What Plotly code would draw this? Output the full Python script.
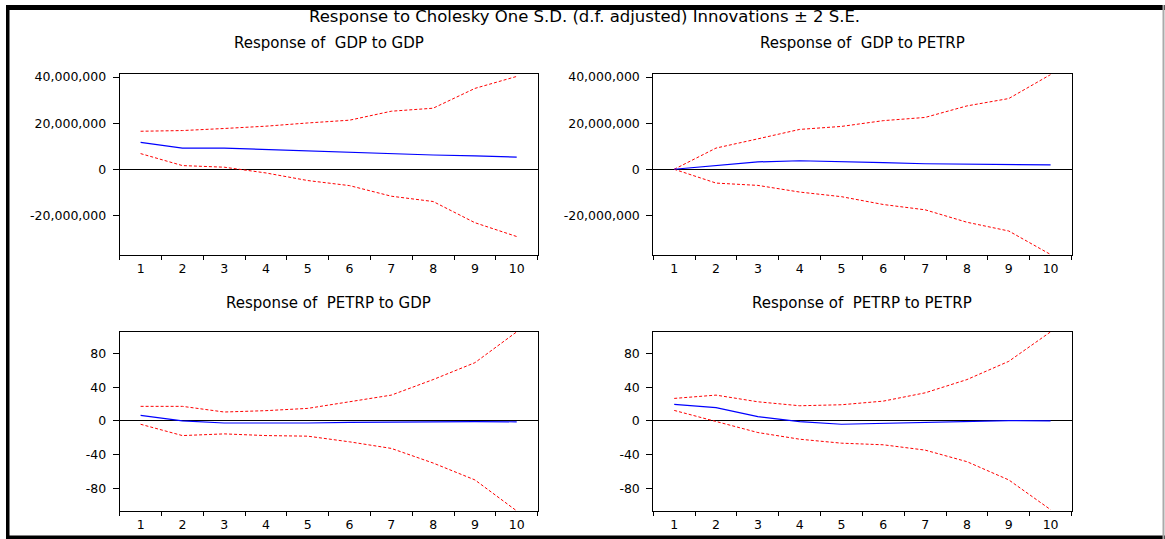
import plotly.graph_objects as go

# ---------------- data ----------------
periods = [1, 2, 3, 4, 5, 6, 7, 8, 9, 10]

# Response of GDP to GDP
gdp_gdp = [11.7e6, 9.2e6, 9.2e6, 8.6e6, 7.9e6, 7.2e6, 6.6e6, 6.2e6, 5.8e6, 5.3e6]
gdp_gdp_up = [16.5e6, 16.8e6, 17.7e6, 18.7e6, 20.1e6, 21.3e6, 25.2e6, 26.5e6, 35.1e6, 40.3e6]
gdp_gdp_lo = [6.8e6, 1.6e6, 0.9e6, -1.6e6, -4.9e6, -7.1e6, -11.7e6, -14.0e6, -23.2e6, -29.2e6]

# Response of GDP to PETRP
gdp_pet = [0.0, 1.6e6, 3.2e6, 3.7e6, 3.4e6, 2.9e6, 2.4e6, 2.2e6, 2.0e6, 1.9e6]
gdp_pet_up = [0.0, 9.2e6, 13.2e6, 17.3e6, 18.6e6, 21.1e6, 22.5e6, 27.5e6, 30.7e6, 41.1e6]
gdp_pet_lo = [0.0, -6.0e6, -7.0e6, -9.9e6, -11.9e6, -15.3e6, -17.6e6, -23.0e6, -26.8e6, -37.0e6]

# Response of PETRP to GDP
pet_gdp = [6.7, 0.0, -2.4, -2.7, -2.4, -1.6, -1.2, -0.8, -0.8, -1.0]
pet_gdp_up = [17.3, 17.3, 10.6, 12.2, 14.9, 23.1, 30.6, 49.0, 69.0, 105.5]
pet_gdp_lo = [-3.9, -17.3, -15.3, -17.3, -18.0, -24.7, -32.5, -49.8, -69.8, -106.5]

# Response of PETRP to PETRP
pet_pet = [19.6, 15.7, 5.1, -0.8, -3.9, -2.7, -1.2, 0.0, 0.4, 0.0]
pet_pet_up = [26.7, 30.6, 22.7, 18.0, 19.2, 23.5, 33.3, 49.0, 70.6, 105.5]
pet_pet_lo = [12.5, -0.4, -13.7, -21.6, -26.3, -28.2, -34.5, -48.2, -69.8, -105.0]

x_ticks = [1, 2, 3, 4, 5, 6, 7, 8, 9, 10]
x_labels = ["1", "2", "3", "4", "5", "6", "7", "8", "9", "10"]
gdp_ticks = [-20e6, 0, 20e6, 40e6]
gdp_labels = ["-20,000,000", "0", "20,000,000", "40,000,000"]
pet_ticks = [-80, -40, 0, 40, 80]
pet_labels = ["-80", "-40", "0", "40", "80"]

main_title = "Response to Cholesky One S.D. (d.f. adjusted) Innovations \u00b1 2 S.E."
panel_titles = ["Response of  GDP to GDP", "Response of  GDP to PETRP",
                "Response of  PETRP to GDP", "Response of  PETRP to PETRP"]

# ---------------- figure ----------------
W, H = 1165, 539
FONT = "DejaVu Sans"

panels = [
    (gdp_gdp, gdp_gdp_up, gdp_gdp_lo),
    (gdp_pet, gdp_pet_up, gdp_pet_lo),
    (pet_gdp, pet_gdp_up, pet_gdp_lo),
    (pet_pet, pet_pet_up, pet_pet_lo),
]

xdom = [[119.7 / W, 537.6 / W], [653.3 / W, 1071.5 / W]]
ydom = [[1 - 252.3 / H, 1 - 70 / H], [1 - 511 / H, 1 - 330 / H]]

fig = go.Figure()
layout = dict(width=W, height=H, margin=dict(l=0, r=0, t=0, b=0),
              paper_bgcolor="white", plot_bgcolor="white", showlegend=False,
              font=dict(family=FONT, color="black"))

for i, (resp, up, lo) in enumerate(panels):
    row, col = divmod(i, 2)
    n = "" if i == 0 else str(i + 1)
    xa, ya = "x" + n, "y" + n
    for band in (up, lo):
        fig.add_trace(go.Scatter(x=periods, y=band, mode="lines", xaxis=xa, yaxis=ya,
                                 line=dict(color="#FF0000", width=1, dash="3px,2px")))
    fig.add_trace(go.Scatter(x=periods, y=resp, mode="lines", xaxis=xa, yaxis=ya,
                             line=dict(color="#0000FF", width=1.2)))
    if row == 0:
        yr, tv, tt = [-37.2e6, 41.2e6], gdp_ticks, gdp_labels
    else:
        yr, tv, tt = [-106.9, 105.4], pet_ticks, pet_labels
    layout["xaxis" + n] = dict(
        domain=xdom[col], anchor=ya, range=[0.5, 10.5], showgrid=False, zeroline=False,
        showline=True, mirror=True, linecolor="black", linewidth=1,
        tickmode="array", tickvals=x_ticks, ticktext=x_labels, ticks="",
        ticklabelstandoff=2, tickfont=dict(size=12.5, family=FONT, color="black"),
        minor=dict(tickmode="array", tickvals=[v - 0.5 for v in x_ticks] + [10.5],
                   ticks="outside", ticklen=4, tickcolor="black", tickwidth=1, showgrid=False),
    )
    layout["yaxis" + n] = dict(
        domain=ydom[row], anchor=xa, range=yr, showgrid=False,
        zeroline=True, zerolinecolor="black", zerolinewidth=1,
        showline=True, mirror=True, linecolor="black", linewidth=1,
        tickmode="array", tickvals=tv, ticktext=tt, ticks="outside", ticklen=6,
        tickcolor="black", tickwidth=1, ticklabelstandoff=4,
        tickfont=dict(size=12.5, family=FONT, color="black"),
    )

annotations = [dict(text=main_title, x=584 / W, y=1 - 12 / H, xref="paper", yref="paper",
                    xanchor="center", yanchor="middle", showarrow=False,
                    font=dict(size=16.5, family=FONT, color="black"))]
sub_y = [1 - 38.5 / H, 1 - 301 / H]
for i, t in enumerate(panel_titles):
    row, col = divmod(i, 2)
    annotations.append(dict(text=t, x=(xdom[col][0] + xdom[col][1]) / 2, y=sub_y[row],
                            xref="paper", yref="paper", xanchor="center", yanchor="middle",
                            showarrow=False, font=dict(size=15, family=FONT, color="black")))
layout["annotations"] = annotations

# outer frame decoration
layout["shapes"] = [
    dict(type="rect", xref="paper", yref="paper", x0=6 / W, x1=1, y0=1 - 5 / H, y1=1,
         fillcolor="black", line=dict(width=0), layer="below"),
    dict(type="rect", xref="paper", yref="paper", x0=6 / W, x1=9.5 / W, y0=0, y1=1,
         fillcolor="black", line=dict(width=0), layer="below"),
    dict(type="rect", xref="paper", yref="paper", x0=6 / W, x1=1, y0=0, y1=3.5 / H,
         fillcolor="black", line=dict(width=0), layer="below"),
    dict(type="rect", xref="paper", yref="paper", x0=1162.5 / W, x1=1164.5 / W, y0=0, y1=1,
         fillcolor="#AAAAAA", line=dict(width=0), layer="below"),
]

fig.update_layout(**layout)
fig.write_html("out.html", config={"displayModeBar": False},
               post_script="document.body.style.margin='0';document.body.style.overflow='hidden';")
